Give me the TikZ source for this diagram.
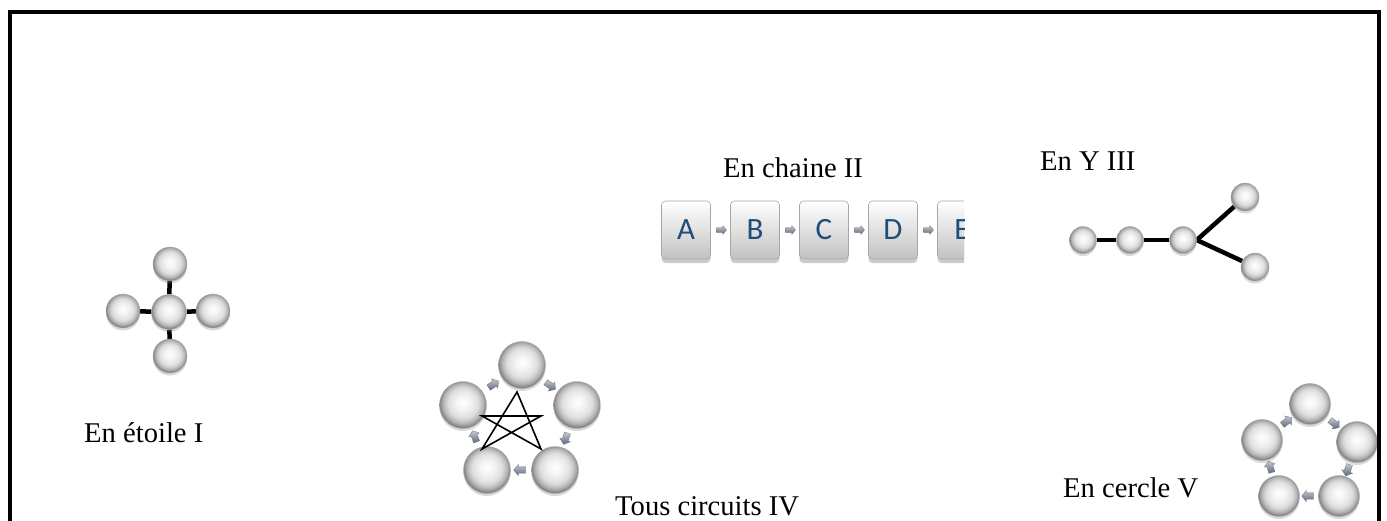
\documentclass[tikz,border=0pt]{standalone}
\usepackage{fontspec}
\setmainfont{Liberation Serif}
\newfontfamily\keyfont{Carlito}
\usetikzlibrary{shadows,shapes.arrows,backgrounds}

% glossy grey sphere
\pgfdeclareradialshading{orb}{\pgfpoint{0bp}{3bp}}{%
  color(0bp)=(white); color(8bp)=(black!5); color(16bp)=(black!13);
  color(21bp)=(black!28); color(25bp)=(black!48); color(29bp)=(black!58); color(50bp)=(black!58)}

\definecolor{keyblue}{HTML}{1F4E79}
\definecolor{tiplight}{HTML}{C3C9D6}
\definecolor{tipdark}{HTML}{5E687C}

\tikzset{
  orbnode/.style={circle, inner sep=0pt, shading=orb, draw=black!32, line width=0.4pt,
    drop shadow={opacity=0.3, shadow xshift=0pt, shadow yshift=-2.5pt}},
  keybox/.style={rectangle, rounded corners=4pt, inner sep=0pt,
    minimum width=49pt, minimum height=58pt,
    top color=white, bottom color=black!24, draw=black!35, line width=0.6pt,
    drop shadow={opacity=0.4, shadow xshift=0pt, shadow yshift=-4pt},
    font=\keyfont\fontsize{31}{31}\selectfont, text=keyblue},
  tip/.style={single arrow, inner xsep=0pt, inner ysep=3pt, text height=0pt, text depth=0pt,
    minimum height=12pt, single arrow head extend=2.5pt, single arrow tip angle=100,
    top color=tiplight, bottom color=tipdark,
    draw=black!55, line width=0.3pt, allow upside down},
  smalltip/.style={tip, inner ysep=2.2pt, minimum height=10pt, single arrow head extend=2pt},
  bar/.style={line width=4.5pt, black},
  starline/.style={line width=1.6pt, black, line join=miter},
  caption/.style={inner sep=0pt, font=\fontsize{28.6}{34}\selectfont},
}

\begin{document}
\begin{tikzpicture}[x=1pt, y=-1pt]
\useasboundingbox (0,0) rectangle (1387,520);

% ---------- I : star ----------
\node[orbnode, minimum size=35pt] (s0) at (169,312) {};
\node[orbnode, minimum size=34pt] (s1) at (170,264) {};
\node[orbnode, minimum size=34pt] (s2) at (213,311) {};
\node[orbnode, minimum size=34pt] (s3) at (170,356) {};
\node[orbnode, minimum size=34pt] (s4) at (123,311) {};
\begin{scope}[on background layer]
  \draw[bar] (s0) -- (s1);
  \draw[bar] (s0) -- (s2);
  \draw[bar] (s0) -- (s3);
  \draw[bar] (s0) -- (s4);
\end{scope}
\node[caption, anchor=base west] (capI) at (84,442) {En étoile I};

% ---------- II : chain ----------
\begin{scope}
  \clip (640,150) rectangle (964,300);
  \node[keybox] (kA) at (686,230) {A};
  \node[keybox] (kB) at (755,230) {B};
  \node[keybox] (kC) at (824,230) {C};
  \node[keybox] (kD) at (893,230) {D};
  \node[keybox] (kE) at (962,230) {E};
  \path (kA) -- (kB) node[midway, smalltip] (tAB) {};
  \path (kB) -- (kC) node[midway, smalltip] (tBC) {};
  \path (kC) -- (kD) node[midway, smalltip] (tCD) {};
  \path (kD) -- (kE) node[midway, smalltip] (tDE) {};
\end{scope}
\node[caption, anchor=base west] (capII) at (723,177) {En chaine II};

% ---------- III : Y ----------
\node[orbnode, minimum size=27pt] (y1) at (1083,240) {};
\node[orbnode, minimum size=27pt] (y2) at (1130,240) {};
\node[orbnode, minimum size=27pt] (y3) at (1183,240) {};
\node[orbnode, minimum size=28pt] (y4) at (1245,197) {};
\node[orbnode, minimum size=28pt] (y5) at (1255,267) {};
\begin{scope}[on background layer]
  \draw[bar] (y1) -- (y2);
  \draw[bar] (y2) -- (y3);
  \draw[bar] (y3.east) -- (y4);
  \draw[bar] (y3.east) -- (y5);
\end{scope}
\node[caption, anchor=base west] (capIII) at (1040,170) {En Y III};

% ---------- IV : all circuits ----------
\node[orbnode, minimum size=47pt] (c1) at (522,365) {};
\node[orbnode, minimum size=47pt] (c2) at (577,405) {};
\node[orbnode, minimum size=47pt] (c3) at (555,470) {};
\node[orbnode, minimum size=47pt] (c4) at (487,470) {};
\node[orbnode, minimum size=47pt] (c5) at (463,405) {};
\path (c1) -- (c2) node[midway, sloped, tip] (t12) {};
\path (c2) -- (c3) node[midway, sloped, tip] (t23) {};
\path (c3) -- (c4) node[midway, sloped, tip] (t34) {};
\path (c4) -- (c5) node[midway, sloped, tip] (t45) {};
\path (c5) -- (c1) node[midway, sloped, tip] (t51) {};
\coordinate (p1) at (517,392);
\coordinate (p2) at (482,416);
\coordinate (p3) at (541,416);
\coordinate (p4) at (482,449);
\coordinate (p5) at (541,449);
\draw[starline] (p1) -- (p4) -- (p3) -- (p2) -- (p5) -- cycle;
\node[caption, anchor=base west] (capIV) at (615,515) {Tous circuits IV};

% ---------- V : circle ----------
\node[orbnode, minimum size=41pt] (r1) at (1310,404) {};
\node[orbnode, minimum size=41pt] (r2) at (1357,442) {};
\node[orbnode, minimum size=41pt] (r3) at (1339,496) {};
\node[orbnode, minimum size=41pt] (r4) at (1279,496) {};
\node[orbnode, minimum size=41pt] (r5) at (1262,440) {};
\path (r1) -- (r2) node[midway, sloped, tip] (u12) {};
\path (r2) -- (r3) node[midway, sloped, tip] (u23) {};
\path (r3) -- (r4) node[midway, sloped, tip] (u34) {};
\path (r4) -- (r5) node[midway, sloped, tip] (u45) {};
\path (r5) -- (r1) node[midway, sloped, tip] (u51) {};
\node[caption, anchor=base west] (capV) at (1063,497) {En cercle V};

% ---------- frame ----------
\draw[line width=4.5pt, line join=miter] (10,524) -- (10,12) -- (1379,12) -- (1379,524);
\end{tikzpicture}
\end{document}
